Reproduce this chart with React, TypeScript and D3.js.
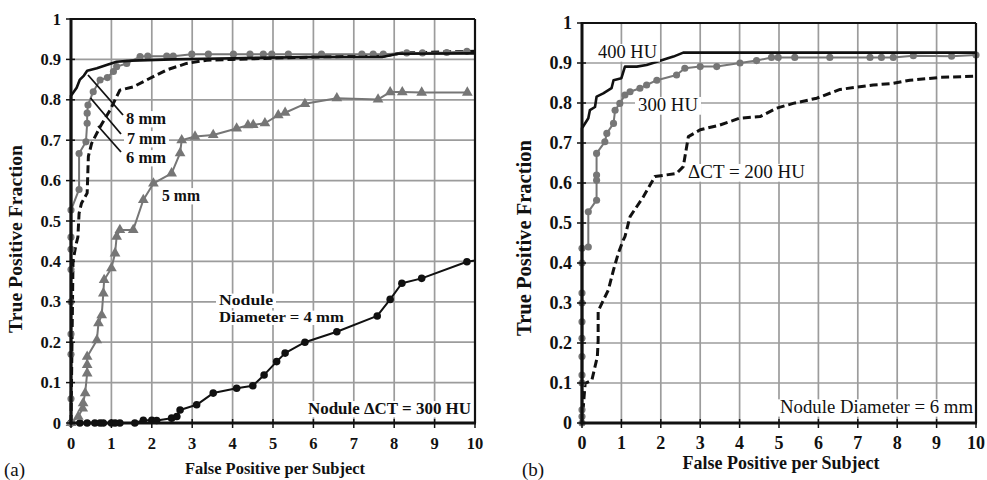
import React from "react";
import * as d3 from "d3";

type Pt = [number, number];

const xTickLabels = ["0", "1", "2", "3", "4", "5", "6", "7", "8", "9", "10"];
const yTickLabels = ["0", "0.1", "0.2", "0.3", "0.4", "0.5", "0.6", "0.7", "0.8", "0.9", "1"];

// Panel (a): nodule ΔCT = 300 HU, by diameter
const mm8: Pt[] = [[0,0],[0,0.81],[0.14,0.83],[0.22,0.85],[0.32,0.86],[0.4,0.872],[0.64,0.878],[0.88,0.886],[1.13,0.894],[1.5,0.897],[2.5,0.9],[4,0.903],[6,0.906],[7.7,0.906],[8.1,0.914],[10,0.915]];
const mm7: Pt[] = [[0,0],[0,0.06],[0,0.17],[0,0.22],[0,0.3],[0,0.38],[0,0.43],[0,0.46],[0,0.527],[0.2,0.578],[0.2,0.667],[0.37,0.696],[0.4,0.742],[0.4,0.767],[0.42,0.787],[0.55,0.82],[0.72,0.849],[0.9,0.855],[1.05,0.87],[1.13,0.882],[1.38,0.89],[1.71,0.907],[1.9,0.908],[2.37,0.908],[2.53,0.908],[2.99,0.913],[3.4,0.913],[4.02,0.913],[4.43,0.913],[4.76,0.913],[4.97,0.913],[5.38,0.913],[6.2,0.913],[7.2,0.913],[7.48,0.913],[7.73,0.913],[8.31,0.916],[8.7,0.916],[9.3,0.917],[9.8,0.92]];
const mm6: Pt[] = [[0,0],[0.05,0.4],[0.12,0.44],[0.17,0.46],[0.2,0.519],[0.26,0.544],[0.4,0.569],[0.43,0.66],[0.51,0.692],[0.72,0.733],[0.97,0.775],[1.21,0.824],[1.54,0.832],[1.87,0.849],[2.37,0.874],[2.86,0.89],[3.36,0.898],[4,0.9],[6,0.906],[7.7,0.908],[8.2,0.916],[10,0.92]];
const mm5: Pt[] = [[0,0],[0.18,0.016],[0.29,0.036],[0.3,0.049],[0.35,0.074],[0.4,0.123],[0.4,0.144],[0.4,0.164],[0.64,0.205],[0.68,0.247],[0.76,0.267],[0.8,0.321],[0.82,0.354],[1.0,0.383],[1.09,0.42],[1.13,0.461],[1.21,0.478],[1.54,0.478],[1.79,0.552],[2.04,0.593],[2.49,0.618],[2.7,0.668],[2.74,0.7],[3.07,0.709],[3.52,0.713],[4.1,0.729],[4.38,0.737],[4.51,0.738],[4.8,0.742],[5.13,0.762],[5.3,0.768],[5.79,0.79],[6.58,0.804],[7.6,0.801],[7.9,0.819],[8.2,0.819],[8.68,0.818],[9.81,0.818]];
const mm4: Pt[] = [[0,0],[0.22,0],[0.4,0],[0.59,0],[0.72,0],[0.8,0],[1.0,0],[1.09,0],[1.21,0],[1.58,0],[1.79,0.007],[2.0,0.007],[2.12,0.006],[2.49,0.012],[2.62,0.016],[2.7,0.032],[3.11,0.045],[3.52,0.074],[4.1,0.086],[4.5,0.092],[4.78,0.119],[5.09,0.152],[5.3,0.173],[5.79,0.2],[6.58,0.226],[7.58,0.265],[7.9,0.306],[8.19,0.346],[8.68,0.358],[9.8,0.399]];
const mm4Tail: Pt[] = [[9.8,0.399],[10,0.402]];

// Panel (b): nodule diameter = 6 mm, by ΔCT
const hu400: Pt[] = [[0,0],[0,0.737],[0.16,0.762],[0.2,0.782],[0.33,0.79],[0.37,0.816],[0.54,0.824],[0.75,0.837],[0.8,0.857],[1.0,0.862],[1.09,0.891],[1.39,0.891],[1.64,0.895],[1.9,0.903],[2.32,0.916],[2.57,0.926],[10,0.926]];
const hu300: Pt[] = [[0,0],[0,0.016],[0,0.033],[0,0.1],[0,0.12],[0,0.166],[0,0.212],[0,0.253],[0,0.3],[0,0.325],[0,0.4],[0,0.437],[0.16,0.44],[0.16,0.528],[0.37,0.557],[0.37,0.607],[0.37,0.62],[0.37,0.674],[0.58,0.703],[0.63,0.724],[0.8,0.749],[0.84,0.782],[0.96,0.799],[1.09,0.82],[1.22,0.828],[1.47,0.837],[1.64,0.845],[1.9,0.857],[2.4,0.87],[2.61,0.887],[3.0,0.891],[3.42,0.891],[4.01,0.9],[4.43,0.906],[4.81,0.914],[4.98,0.914],[5.4,0.914],[6.29,0.914],[7.31,0.914],[7.6,0.914],[7.9,0.914],[8.41,0.918],[9.38,0.917],[10,0.92]];
const hu200: Pt[] = [[0,0],[0.08,0.099],[0.25,0.107],[0.39,0.166],[0.41,0.207],[0.41,0.28],[0.67,0.333],[0.8,0.383],[0.92,0.424],[1.05,0.458],[1.09,0.466],[1.22,0.516],[1.56,0.566],[1.85,0.616],[2.4,0.624],[2.57,0.641],[2.7,0.716],[3.0,0.733],[3.5,0.745],[4.0,0.762],[4.52,0.766],[4.94,0.787],[5.36,0.799],[5.96,0.812],[6.55,0.834],[7.39,0.845],[7.9,0.849],[8.32,0.857],[9.09,0.864],[10,0.867]];

const FONT = "'Liberation Serif', 'Times New Roman', serif";
const GRAY = "#767676";
const GRID = "#9c9c9c";

type Series = { data: Pt[]; color: string; width: number; dash?: string; marker?: "circle" | "triangle"; msize?: number };
type Label = { text: string; x: number; y: number; len: number; fs: number; bold?: boolean; bg?: boolean };
type Leader = [number, number, number, number];

type PanelCfg = {
  x0: number; x1: number; yT: number; yB: number;
  series: Series[]; labels: Label[]; leaders: Leader[];
  tickFs: number; yTitle: { x: number; y: number; len: number; fs: number };
  xTitle: { x: number; y: number; len: number; fs: number };
  tag: { text: string; x: number; y: number };
};

function Panel({ cfg }: { cfg: PanelCfg }) {
  const x = d3.scaleLinear().domain([0, 10]).range([cfg.x0, cfg.x1]);
  const y = d3.scaleLinear().domain([0, 1]).range([cfg.yB, cfg.yT]);
  const line = d3.line<Pt>().x((d) => x(d[0])).y((d) => y(d[1]));
  const xt = d3.range(0, 11);
  const yt = d3.range(0, 11).map((i) => i / 10);
  return (
    <g>
      {/* grid */}
      {xt.slice(1, 10).map((v) => (
        <line key={"gx" + v} x1={x(v)} x2={x(v)} y1={cfg.yT} y2={cfg.yB} stroke={GRID} strokeWidth={1.7} />
      ))}
      {yt.slice(1, 10).map((v) => (
        <line key={"gy" + v} x1={cfg.x0} x2={cfg.x1} y1={y(v)} y2={y(v)} stroke={GRID} strokeWidth={1.7} />
      ))}
      {/* series */}
      {cfg.series.map((s, i) => (
        <g key={"s" + i}>
          <path d={line(s.data) || ""} fill="none" stroke={s.color} strokeWidth={s.width} strokeDasharray={s.dash} strokeLinejoin="round" />
          {s.marker &&
            s.data.map((d, j) => (
              <path
                key={j}
                transform={`translate(${x(d[0])},${y(d[1])})`}
                d={d3.symbol().type(s.marker === "triangle" ? d3.symbolTriangle : d3.symbolCircle).size(s.msize || 40)() || ""}
                fill={s.color}
              />
            ))}
        </g>
      ))}
      {/* labels */}
      {cfg.labels.map((l, i) => (
        <g key={"l" + i}>
          {l.bg && <rect x={l.x - 3} y={l.y - l.fs * 0.76} width={l.len + 6} height={l.fs * 0.96} fill="#fff" />}
          <text x={l.x} y={l.y} fontFamily={FONT} fontSize={l.fs} fontWeight={l.bold ? "bold" : "normal"} textLength={l.len} lengthAdjust="spacingAndGlyphs" fill="#111">
            {l.text}
          </text>
        </g>
      ))}
      {cfg.leaders.map((l, i) => (
        <line key={"ld" + i} x1={l[0]} y1={l[1]} x2={l[2]} y2={l[3]} stroke="#111" strokeWidth={1.8} />
      ))}
      {/* frame */}
      <line x1={cfg.x0} x2={cfg.x1} y1={cfg.yT} y2={cfg.yT} stroke="#111" strokeWidth={2.2} />
      <line x1={cfg.x1} x2={cfg.x1} y1={cfg.yT} y2={cfg.yB} stroke="#111" strokeWidth={2.2} />
      <line x1={cfg.x0} x2={cfg.x0} y1={cfg.yT - 1} y2={cfg.yB + 1.5} stroke="#111" strokeWidth={3} />
      <line x1={cfg.x0 - 1.5} x2={cfg.x1 + 1} y1={cfg.yB} y2={cfg.yB} stroke="#111" strokeWidth={3} />
      {xt.map((v) => (
        <line key={"tx" + v} x1={x(v)} x2={x(v)} y1={cfg.yB - 4} y2={cfg.yB + 5} stroke="#111" strokeWidth={1.5} />
      ))}
      {yt.map((v) => (
        <line key={"ty" + v} x1={cfg.x0 - 5} x2={cfg.x0 + 4} y1={y(v)} y2={y(v)} stroke="#111" strokeWidth={1.5} />
      ))}
      {/* tick labels */}
      {xt.map((v, i) => (
        <text key={"xl" + v} x={x(v)} y={cfg.yB + 26} textAnchor="middle" fontFamily={FONT} fontSize={cfg.tickFs} fontWeight="bold" fill="#111">
          {xTickLabels[i]}
        </text>
      ))}
      {yt.map((v, i) => (
        <text key={"yl" + i} x={cfg.x0 - 10} y={y(v) + cfg.tickFs * 0.34} textAnchor="end" fontFamily={FONT} fontSize={cfg.tickFs} fontWeight="bold" fill="#111">
          {yTickLabels[i]}
        </text>
      ))}
      {/* axis titles */}
      <text x={cfg.xTitle.x} y={cfg.xTitle.y} textAnchor="middle" fontFamily={FONT} fontSize={cfg.xTitle.fs} fontWeight="bold" textLength={cfg.xTitle.len} lengthAdjust="spacingAndGlyphs" fill="#111">
        False Positive per Subject
      </text>
      <text transform={`translate(${cfg.yTitle.x},${cfg.yTitle.y}) rotate(-90)`} textAnchor="middle" fontFamily={FONT} fontSize={cfg.yTitle.fs} fontWeight="bold" textLength={cfg.yTitle.len} lengthAdjust="spacingAndGlyphs" fill="#111">
        True Positive Fraction
      </text>
      <text x={cfg.tag.x} y={cfg.tag.y} fontFamily={FONT} fontSize={19} fill="#111">
        {cfg.tag.text}
      </text>
    </g>
  );
}

const panelA: PanelCfg = {
  x0: 71, x1: 475, yT: 19, yB: 423,
  series: [
    { data: mm4, color: "#111", width: 2, marker: "circle", msize: 45 },
    { data: mm4Tail, color: "#111", width: 2 },
    { data: mm5, color: GRAY, width: 2, marker: "triangle", msize: 50 },
    { data: mm6, color: "#111", width: 3, dash: "8,4" },
    { data: mm7, color: GRAY, width: 2, marker: "circle", msize: 40 },
    { data: mm8, color: "#111", width: 2.6 },
  ],
  labels: [
    { text: "8 mm", x: 126, y: 124, len: 40, fs: 17, bold: true, bg: true },
    { text: "7 mm", x: 127, y: 144, len: 39, fs: 17, bold: true, bg: true },
    { text: "6 mm", x: 126, y: 163, len: 40, fs: 17, bold: true, bg: true },
    { text: "5 mm", x: 162, y: 201, len: 38, fs: 17, bold: true, bg: true },
    { text: "Nodule", x: 219, y: 305, len: 54, fs: 15, bold: true, bg: true },
    { text: "Diameter = 4 mm", x: 219, y: 322, len: 125, fs: 15, bold: true, bg: true },
    { text: "Nodule ΔCT = 300 HU", x: 308, y: 414, len: 163, fs: 17, bold: true, bg: true },
  ],
  leaders: [
    [88, 75, 123, 115],
    [90.5, 98, 121, 134],
    [98, 126, 121, 152],
  ],
  tickFs: 16.5,
  yTitle: { x: 22, y: 239, len: 188, fs: 19 },
  xTitle: { x: 275, y: 474, len: 180, fs: 16.5 },
  tag: { text: "(a)", x: 4, y: 476 },
};

const panelB: PanelCfg = {
  x0: 582, x1: 976, yT: 23, yB: 423,
  series: [
    { data: hu200, color: "#111", width: 3, dash: "8,4" },
    { data: hu300, color: GRAY, width: 2, marker: "circle", msize: 40 },
    { data: hu400, color: "#111", width: 2.6 },
  ],
  labels: [
    { text: "400 HU", x: 598, y: 58, len: 59, fs: 18.5, bold: false, bg: true },
    { text: "300 HU", x: 638, y: 111, len: 60, fs: 18.5, bold: false, bg: true },
    { text: "ΔCT = 200 HU", x: 688, y: 178, len: 117, fs: 18.5, bold: false, bg: true },
    { text: "Nodule Diameter = 6 mm", x: 780, y: 413, len: 193, fs: 18, bold: false, bg: true },
  ],
  leaders: [],
  tickFs: 18,
  yTitle: { x: 531, y: 238, len: 196, fs: 20 },
  xTitle: { x: 781, y: 469, len: 197, fs: 18 },
  tag: { text: "(b)", x: 522, y: 476 },
};

export default function App() {
  return (
    <div style={{ position: "absolute", left: 0, top: 0 }}>
      <svg width={987} height={480} viewBox="0 0 987 480" style={{ display: "block", background: "#fff" }}>
        <rect x={0} y={0} width={987} height={480} fill="#fff" />
        <Panel cfg={panelA} />
        <Panel cfg={panelB} />
      </svg>
    </div>
  );
}
